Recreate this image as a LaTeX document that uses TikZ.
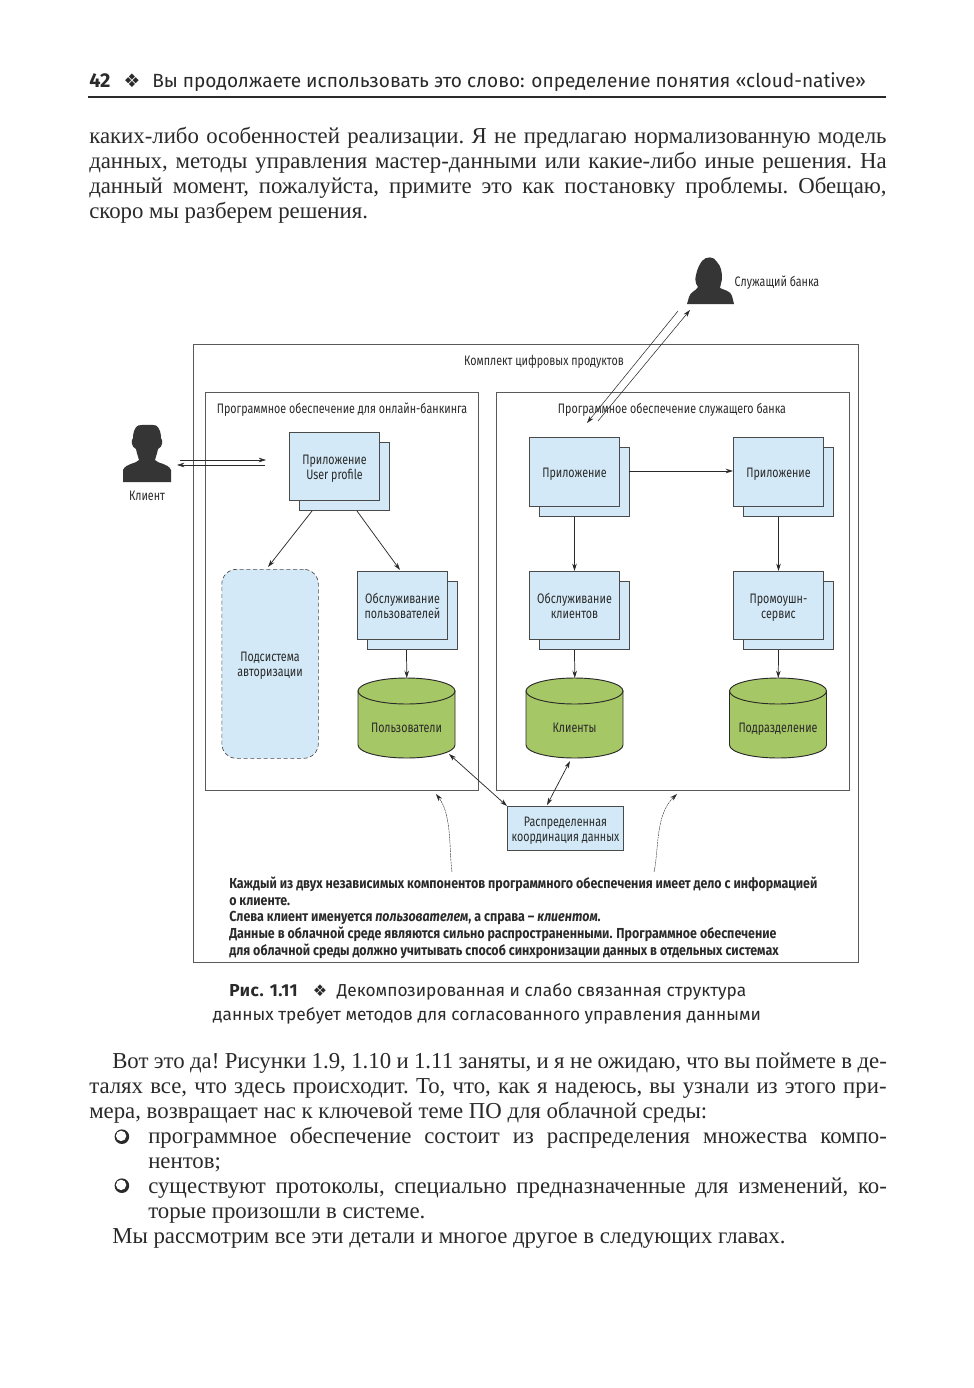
\documentclass[tikz,border=0pt]{standalone}
\usepackage{fontspec}
\usetikzlibrary{arrows.meta,calc}
\setmainfont{Liberation Serif}
\newfontfamily\hdr{Fira Sans}
\newfontfamily\narrow[FakeStretch=0.78]{Fira Sans}
\newfontfamily\notefam[FakeStretch=0.86]{Fira Sans}
\newfontfamily\dingb{DejaVu Sans}
\definecolor{boxblue}{HTML}{D3E9F7}
\definecolor{cylgreen}{HTML}{A6C765}
\definecolor{ink}{HTML}{2A2A2A}
\definecolor{edge}{HTML}{5A5A5A}
\newcommand{\lab}{\narrow\fontsize{10.3pt}{11.2pt}\selectfont}
\newcommand{\notef}{\notefam\bfseries\fontsize{10.85pt}{12pt}\selectfont}
\newcommand{\capf}{\hdr\fontsize{12.98pt}{15pt}\selectfont}
\newcommand{\bodyf}{\frenchspacing\fontsize{17.1pt}{19pt}\selectfont}
\newcommand{\dn}{\rule{0pt}{1.1em}}
\tikzset{
  sz/.style 2 args={minimum width=#1*0.75pt, minimum height=#2*0.75pt},
  frame/.style={draw=edge, line width=0.75pt, inner sep=0, anchor=north west},
  evenly set/.style={execute at begin node=\rule{0pt}{1.07em}, execute at end node=\rule[-0.3em]{0pt}{0pt}},
  front/.style={draw=ink!85, fill=boxblue, line width=0.75pt, inner sep=0, anchor=north west, align=center, font=\lab, text=ink, evenly set},
  back/.style={front},
  dashbox/.style={front, densely dashed, line width=0.5pt, rounded corners=11pt},
  cyl/.style={draw=ink, fill=cylgreen, line width=0.7pt},
  cyllab/.style={inner sep=0, anchor=north west},
  lbl/.style={inner sep=0, font=\lab, text=ink, align=center},
  cyltext/.style={lbl, evenly set},
  conn/.style={draw=ink, line width=0.55pt, -{Stealth[length=5.5pt,width=3.4pt]}},
  both/.style={conn, {Stealth[length=5.5pt,width=3.4pt]}-{Stealth[length=5.5pt,width=3.4pt]}},
  thin conn/.style={conn, line width=0.4pt},
  fine curve/.style={conn, line width=0.3pt, dash pattern=on 1.6pt off 0.5pt},
  body/.style={inner sep=0, anchor=base west, font=\bodyf, text=ink},
  note/.style={inner sep=0, anchor=base west, font=\notef, text=ink},
  caption/.style={inner sep=0, anchor=base, font=\capf, text=ink},
  person/.style={fill=ink!95, draw=none},
}
\newcommand{\jl}[3]{\node[body] (#1) at (89,#2) {\makebox[598pt][s]{#3}};}
\newcommand{\appbox}[6]{%
  \node[back, sz={#5}{#6}] (#1b) at (#3+10,#4+10) {};
  \node[front, sz={#5}{#6}] (#1) at (#3,#4) {#2};}
\newcommand{\dbcyl}[3]{% name, left x, label
  \draw[cyl] (#2,691) -- (#2,745) arc[start angle=180, end angle=360, x radius=48.5, y radius=-13]
    -- (#2+97,691) -- cycle;
  \draw[cyl] (#2+48.5,691) ellipse[x radius=48.5, y radius=13];
  \node[cyllab, sz={97}{80}] (#1) at (#2,678) {};
  \node[cyltext] (#1t) at (#2+48.5,727.5) {#3};}
\newcommand{\ringbullet}[1]{%
  \fill[ink] (121.9,#1) circle[radius=7.3];
  \fill[white] (121.1,#1-0.8) circle[radius=5.2];}
\begin{document}
\begin{tikzpicture}[x=0.75pt,y=-0.75pt]
\useasboundingbox (0,0) rectangle (974,1388);
\fill[white] (0,0) rectangle (974,1388);
% page header
\node[inner sep=0, anchor=base west, font=\hdr\bfseries\fontsize{15pt}{17pt}\selectfont, text=ink] (pg) at (89,88) {42};
\node[inner sep=0, anchor=base, font=\dingb\fontsize{14pt}{14pt}\selectfont, text=ink] (hd) at (132,88) {❖};
\node[inner sep=0, anchor=base west, font=\hdr\fontsize{14.3pt}{17pt}\selectfont, text=ink] (ht) at (152,88) {Вы продолжаете использовать это слово: определение понятия «cloud-native»};
\draw[ink, line width=1.4pt] (88,97) -- (886,97);
% top text
\jl{l1}{143}{каких-либо особенностей реализации. Я не предлагаю нормализованную модель}
\jl{l2}{168}{данных, методы управления мастер-данными или какие-либо иные решения. На}
\jl{l3}{193}{данный момент, пожалуйста, примите это как постановку проблемы. Обещаю,}
\node[body] (l4) at (89,218) {скоро мы разберем решения.};
% frames
\node[frame, sz={665}{618}] (suite) at (193,344) {};
\node[frame, sz={273}{398}] (left) at (205,392) {};
\node[frame, sz={353}{398}] (right) at (496,392) {};
\node[lbl] (suitet) at (544,361.5) {Комплект цифровых продуктов};
\node[lbl] (leftt) at (342,409.5) {Программное обеспечение для онлайн-банкинга};
\node[lbl] (rightt) at (672,409.5) {Программное обеспечение служащего банка};
% people
\fill[person] (138,425.5) .. controls (143,424.5) and (152,424.5) .. (156,425.5) .. controls (160,428) and (161,434) .. (161,438) .. controls (163,440) and (163,447) .. (158,449) .. controls (157,454) and (156,456) .. (155,460) .. controls (158,464) and (168,463) .. (171,470) -- (171,482) -- (123,482) -- (123,470) .. controls (126,463) and (136,464) .. (139,460) .. controls (138,456) and (137,454) .. (136,449) .. controls (131,447) and (131,440) .. (133,438) .. controls (133,434) and (134,428) .. (138,425.5) -- cycle;
\fill[person] (702,261) .. controls (706,256) and (714,256) .. (717,262) .. controls (721,266) and (722,272) .. (722,278) .. controls (722,282) and (720,285) .. (720,288) .. controls (724,290) and (731,291) .. (732,296) -- (734,304) -- (687,304) -- (689,297) .. controls (690,292) and (696,291) .. (698,287) .. controls (695,283) and (695,279) .. (696,275) .. controls (697,270) and (699,265) .. (702,261) -- cycle;
\node[lbl] (clientt) at (147,495.5) {Клиент};
\node[lbl] (clerkt) at (777,283) {Служащий банка};
% services
\appbox{up}{\dn Приложение\\User profile}{289}{432}{90}{68}
\appbox{us}{\dn Обслуживание\\пользователей}{357}{571}{90}{68}
\appbox{a1}{Приложение}{529}{437}{90}{69}
\appbox{a2}{Приложение}{733}{437}{90}{68.5}
\appbox{cs}{\dn Обслуживание\\клиентов}{529}{571}{90}{68}
\appbox{ps}{\dn Промоушн-\\сервис}{733}{571}{90}{68}
\node[dashbox, sz={96.5}{189}] (auth) at (221.5,569) {\dn Подсистема\\авторизации};
\dbcyl{dbu}{358}{Пользователи}
\dbcyl{dbc}{526}{Клиенты}
\dbcyl{dbd}{729.5}{Подразделение}
\node[front, sz={116}{43.5}] (dcd) at (507,806) {\dn Распределенная\\координация данных};
% connector ends
\coordinate (c1a) at (180,460); \coordinate (c1b) at (266,460);
\coordinate (c2a) at (265,465); \coordinate (c2b) at (177,465);
\coordinate (e1a) at (678,311); \coordinate (e1b) at (587,423);
\coordinate (e2a) at (598,421); \coordinate (e2b) at (690,310);
\coordinate (upl) at (312,511); \coordinate (upr) at (357,511);
\coordinate (authin) at (268,567); \coordinate (usin) at (400,570);
\coordinate (a1r) at (629,471); \coordinate (a2l) at (733,471);
\coordinate (dbuo) at (449,754); \coordinate (dcdl) at (507,806);
\coordinate (dbco) at (570,761); \coordinate (dcdt) at (547,805);
\coordinate (noteL) at (452,872); \coordinate (noteR) at (654,872);
\coordinate (leftp) at (436,794); \coordinate (rightp) at (677,794);
% connectors
\draw[thin conn] (c1a) -- (c1b);
\draw[thin conn] (c2a) -- (c2b);
\draw[thin conn] (e1a) -- (e1b);
\draw[thin conn] (e2a) -- (e2b);
\draw[conn] (upl) -- (authin);
\draw[conn] (upr) -- (usin);
\draw[conn] (a1r) -- (a2l);
\draw[conn] (a1 |- a1b.south) -- (cs.north);
\draw[conn] (a2 |- a2b.south) -- (ps.north);
\draw[conn] ($(us |- usb.south)+(4,0)$) -- (dbu.north);
\draw[conn] (cs |- csb.south) -- (dbc.north);
\draw[conn] (ps |- psb.south) -- (dbd.north);
\draw[both] (dbuo) -- (dcdl);
\draw[both] (dbco) -- (dcdt);
\draw[fine curve] (noteL) .. controls (449,850) and (452,815) .. (leftp);
\draw[fine curve] (noteR) .. controls (659,850) and (655,815) .. (rightp);
% note
\node[note] (n1) at (229,888) {Каждый из двух независимых компонентов программного обеспечения имеет дело с информацией};
\node[note] (n2) at (229,905) {о клиенте.};
\node[note] (n3) at (229,921) {Слева клиент именуется \textit{пользователем}, а справа – \textit{клиентом}.};
\node[note] (n4) at (229,938) {Данные в облачной среде являются сильно распространенными.  Программное обеспечение};
\node[note] (n5) at (229,955) {для облачной среды должно учитывать способ синхронизации данных в отдельных системах};
% caption
\node[caption, anchor=base west] (cap1) at (229,996) {\textbf{\addfontfeature{LetterSpace=3}Рис. 1.11}\hspace{11pt}{\dingb\fontsize{12pt}{12pt}\selectfont ❖}\hspace{7.2pt}Декомпозированная и слабо связанная структура};
\node[caption] (cap2) at (487,1020) {данных требует методов для согласованного управления данными};
% lower text
\node[body] (p1) at (112,1068) {\makebox[581pt][s]{Вот это да! Рисунки 1.9, 1.10 и 1.11 заняты, и я не ожидаю, что вы поймете в де-}};
\jl{p2}{1093}{талях все, что здесь происходит. То, что, как я надеюсь, вы узнали из этого при-}
\node[body] (p3) at (89,1118) {мера, возвращает нас к ключевой теме ПО для облачной среды:};
\ringbullet{1136.7}
\node[body] (p4) at (148,1143) {\makebox[554pt][s]{программное обеспечение состоит из распределения множества компо-}};
\node[body] (p5) at (148,1168) {нентов;};
\ringbullet{1185.7}
\node[body] (p6) at (148,1193) {\makebox[554pt][s]{существуют протоколы, специально предназначенные для изменений, ко-}};
\node[body] (p7) at (148,1218) {торые произошли в системе.};
\node[body] (p8) at (112,1243) {Мы рассмотрим все эти детали и многое другое в следующих главах.};
\end{tikzpicture}
\end{document}
